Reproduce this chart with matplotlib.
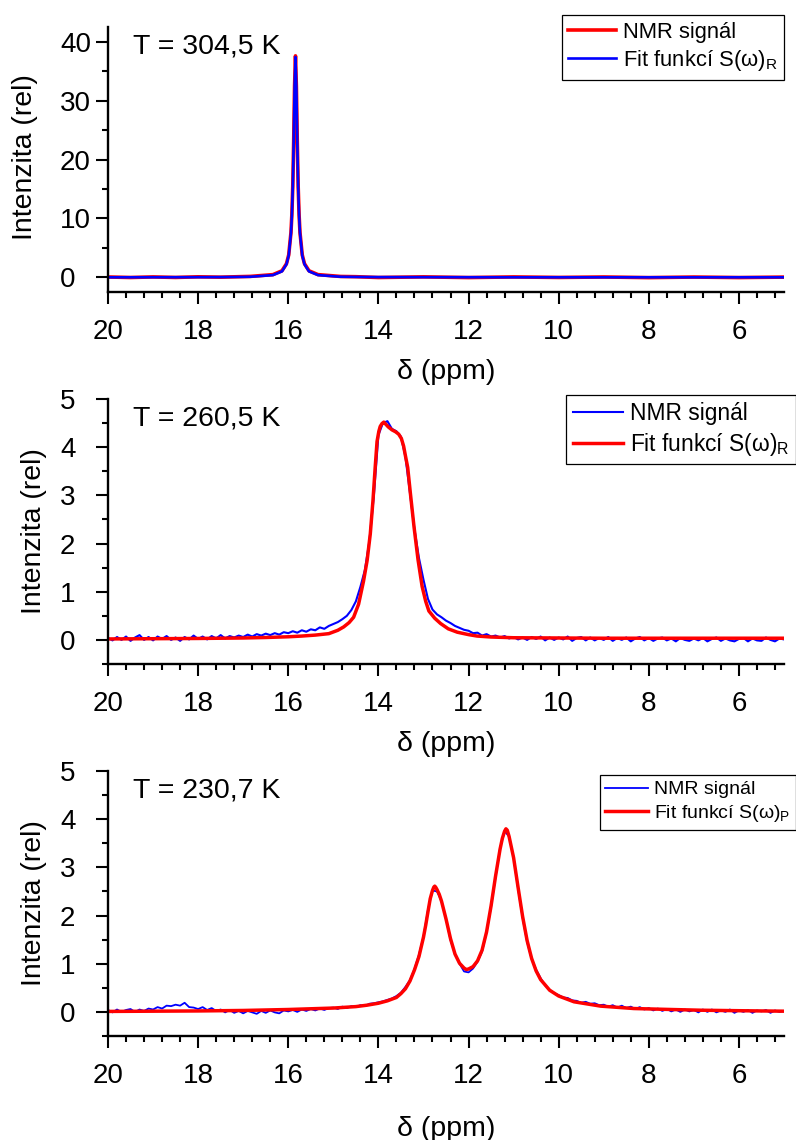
import numpy as np
import matplotlib
matplotlib.use("Agg")
import matplotlib.pyplot as plt
from matplotlib.ticker import MultipleLocator

plt.rcParams["font.family"] = ["Liberation Sans", "DejaVu Sans"]
plt.rcParams["mathtext.fontset"] = "custom"
plt.rcParams["mathtext.rm"] = "Liberation Sans"

RED = "#ff0000"
BLUE = "#0000ff"

# --- T = 304,5 K : one narrow line ---
t1_ppm = [20.0, 19.5, 19.0, 18.5, 18.0, 17.5, 17.0, 16.84, 16.34, 16.14,
          16.04, 15.99, 15.94, 15.92, 15.90, 15.88, 15.86, 15.84, 15.82, 15.80,
          15.78, 15.76, 15.74, 15.69, 15.64, 15.54, 15.34, 14.84, 14.5, 14.0,
          13.0, 12.0, 11.0, 10.0, 9.0, 8.0, 7.0, 6.0, 5.0]
t1_signal = [0.05, -0.04, 0.06, -0.03, 0.08, 0.02, 0.12, 0.15, 0.45, 1.1,
             2.3, 3.8, 7.6, 10.7, 15.5, 23.0, 32.5, 37.6, 32.4, 23.0,
             15.4, 10.6, 7.6, 3.8, 2.3, 1.1, 0.45, 0.14, 0.10, -0.04,
             0.07, -0.05, 0.06, -0.03, 0.05, -0.06, 0.04, -0.05, 0.03]
t1_fit = [0.0, 0.0, 0.01, 0.01, 0.02, 0.03, 0.07, 0.09, 0.37, 1.0,
          2.2, 3.7, 7.5, 10.5, 15.3, 22.8, 32.2, 37.4, 32.2, 22.8,
          15.3, 10.5, 7.5, 3.7, 2.2, 1.0, 0.37, 0.09, 0.06, 0.03,
          0.02, 0.01, 0.0, 0.0, 0.0, 0.0, 0.0, 0.0, 0.0]

# measured spectra at 260,5 K and 230,7 K share one grid, 20.0 -> 5.0 ppm
sig_ppm = np.round(np.arange(200, 49, -1) / 10, 1)

# --- T = 260,5 K ---
t2_signal = [
    0.04, -0.01, 0.06, 0.00, 0.07, -0.02, 0.05, 0.10, 0.00, 0.06,   # 20.0
    -0.01, 0.07, 0.02, 0.08, 0.00, 0.05, -0.02, 0.06, 0.01, 0.09,   # 19.0
    0.02, 0.07, 0.01, 0.08, 0.03, 0.10, 0.03, 0.08, 0.05, 0.09,     # 18.0
    0.06, 0.11, 0.07, 0.12, 0.09, 0.13, 0.10, 0.14, 0.11, 0.16,     # 17.0
    0.14, 0.18, 0.15, 0.20, 0.17, 0.22, 0.20, 0.26, 0.23, 0.29,     # 16.0
    0.33, 0.37, 0.43, 0.50, 0.62, 0.80, 1.10, 1.45, 2.05, 3.00,     # 15.0
    4.25, 4.50, 4.54, 4.38, 4.33, 4.22, 3.80, 3.05, 2.30, 1.70,     # 14.0
    1.25, 0.85, 0.63, 0.53, 0.47, 0.40, 0.35, 0.29, 0.25, 0.21,     # 13.0
    0.19, 0.14, 0.15, 0.09, 0.12, 0.07, 0.09, 0.05, 0.08, 0.03,     # 12.0
    0.06, 0.01, 0.05, 0.00, 0.06, 0.02, 0.07, -0.01, 0.05, 0.00,    # 11.0
    0.05, 0.01, 0.07, -0.02, 0.04, 0.06, -0.01, 0.05, -0.01, 0.04,  # 10.0
    0.00, 0.06, -0.02, 0.04, 0.00, 0.05, -0.03, 0.03, 0.06, -0.01,  # 9.0
    0.04, -0.02, 0.03, 0.05, -0.01, 0.03, -0.03, 0.04, 0.00, -0.02,  # 8.0
    0.03, -0.01, 0.04, -0.03, 0.02, 0.05, -0.02, 0.03, -0.01, -0.03,  # 7.0
    0.02, 0.04, -0.03, 0.03, -0.01, -0.02, 0.05, 0.00, -0.03, 0.03,  # 6.0
    0.01,                                                            # 5.0
]
t2_fit_ppm = [20.0, 19.0, 18.0, 17.0, 16.5, 16.0, 15.7, 15.4, 15.1, 14.9,
              14.77, 14.65, 14.55, 14.44, 14.33, 14.25, 14.18, 14.12, 14.07, 14.03,
              13.99, 13.96, 13.92, 13.88, 13.84, 13.78, 13.70, 13.62, 13.55, 13.49,
              13.44, 13.40, 13.35, 13.29, 13.21, 13.12, 13.03, 12.95, 12.88, 12.75,
              12.62, 12.45, 12.25, 12.0, 11.81, 11.5, 11.0, 10.0, 9.0, 8.0,
              7.0, 6.0, 5.0]
t2_fit = [0.02, 0.025, 0.03, 0.04, 0.05, 0.065, 0.08, 0.10, 0.13, 0.20,
          0.27, 0.36, 0.47, 0.74, 1.22, 1.65, 2.20, 2.90, 3.60, 4.12,
          4.33, 4.43, 4.49, 4.52, 4.48, 4.42, 4.36, 4.32, 4.27, 4.18,
          4.02, 3.82, 3.58, 3.04, 2.35, 1.66, 1.11, 0.80, 0.60, 0.45,
          0.34, 0.23, 0.16, 0.11, 0.08, 0.06, 0.045, 0.04, 0.035, 0.035,
          0.035, 0.035, 0.035]

# --- T = 230,7 K : two resolved lines ---
t3_signal = [
    0.04, -0.01, 0.05, 0.00, 0.04, 0.06, 0.00, 0.05, 0.02, 0.07,    # 20.0
    0.05, 0.10, 0.07, 0.13, 0.12, 0.15, 0.13, 0.19, 0.10, 0.09,     # 19.0
    0.06, 0.10, 0.04, 0.08, 0.02, 0.05, -0.01, 0.04, -0.02, 0.02,   # 18.0
    -0.03, 0.02, -0.01, -0.04, 0.02, -0.02, 0.03, -0.01, -0.03, 0.03,  # 17.0
    0.01, 0.04, 0.00, 0.05, 0.02, 0.06, 0.03, 0.07, 0.04, 0.08,     # 16.0
    0.09, 0.06, 0.11, 0.08, 0.12, 0.10, 0.14, 0.12, 0.17, 0.18,     # 15.0
    0.20, 0.22, 0.25, 0.28, 0.33, 0.40, 0.52, 0.66, 0.89, 1.19,     # 14.0
    1.56, 2.12, 2.52, 2.50, 2.30, 1.93, 1.49, 1.20, 1.00, 0.84,     # 13.0
    0.82, 0.90, 1.04, 1.25, 1.65, 2.18, 2.80, 3.40, 3.75, 3.64,     # 12.0
    3.20, 2.55, 1.95, 1.45, 1.10, 0.88, 0.70, 0.55, 0.46, 0.39,     # 11.0
    0.35, 0.30, 0.29, 0.24, 0.23, 0.19, 0.21, 0.17, 0.18, 0.14,     # 10.0
    0.15, 0.11, 0.14, 0.09, 0.13, 0.08, 0.11, 0.06, 0.10, 0.05,     # 9.0
    0.08, 0.03, 0.07, 0.02, 0.06, 0.01, 0.05, 0.00, 0.05, 0.01,     # 8.0
    0.04, -0.01, 0.05, 0.00, 0.05, -0.01, 0.03, 0.00, 0.05, -0.02,  # 7.0
    0.03, 0.00, 0.04, -0.02, 0.03, 0.01, 0.04, -0.02, 0.03, 0.00,   # 6.0
    0.02,                                                            # 5.0
]
t3_fit_ppm = [20.0, 19.0, 18.0, 17.0, 16.0, 15.0, 14.5, 14.25, 14.0, 13.8,
              13.6, 13.5, 13.4, 13.3, 13.2, 13.1, 13.0, 12.95, 12.9, 12.85,
              12.8, 12.77, 12.75, 12.73, 12.7, 12.65, 12.6, 12.5, 12.4, 12.3,
              12.2, 12.1, 12.05, 12.0, 11.9, 11.8, 11.7, 11.6, 11.5, 11.4,
              11.3, 11.25, 11.2, 11.17, 11.14, 11.1, 11.0, 10.9, 10.8, 10.7,
              10.6, 10.5, 10.4, 10.2, 10.0, 9.66, 9.07, 8.33, 7.5, 6.84,
              6.0, 5.0]
t3_fit = [0.01, 0.015, 0.02, 0.03, 0.05, 0.08, 0.11, 0.14, 0.18, 0.23,
          0.30, 0.38, 0.48, 0.64, 0.87, 1.15, 1.55, 1.80, 2.08, 2.35,
          2.52, 2.59, 2.61, 2.59, 2.54, 2.44, 2.30, 1.93, 1.52, 1.20,
          1.01, 0.91, 0.88, 0.89, 0.94, 1.06, 1.28, 1.66, 2.20, 2.82,
          3.38, 3.60, 3.75, 3.80, 3.77, 3.64, 3.20, 2.58, 1.98, 1.48,
          1.11, 0.85, 0.67, 0.45, 0.33, 0.21, 0.12, 0.07, 0.05, 0.035,
          0.025, 0.015]

FIG_W, FIG_H = 796, 1140
fig = plt.figure(figsize=(FIG_W / 100, FIG_H / 100), dpi=100)


def make_axes(top_px):
    left, right, h = 108, 784, 265
    return fig.add_axes([left / FIG_W, (FIG_H - top_px - h) / FIG_H,
                         (right - left) / FIG_W, h / FIG_H])


def style(ax, ymax, ymin, ymajor, yminor, xpad):
    ax.set_xlim(20, 5)
    ax.set_ylim(ymin, ymax)
    for s in ("top", "right"):
        ax.spines[s].set_visible(False)
    for s in ("left", "bottom"):
        ax.spines[s].set_linewidth(1.7)
    ax.xaxis.set_major_locator(MultipleLocator(2))
    ax.xaxis.set_minor_locator(MultipleLocator(0.4))
    ax.yaxis.set_major_locator(MultipleLocator(ymajor))
    ax.yaxis.set_minor_locator(MultipleLocator(yminor))
    ax.tick_params(which="major", length=8.6, width=1.5, labelsize=20)
    ax.tick_params(which="minor", length=4.3, width=1.5)
    ax.tick_params(axis="x", pad=11)
    ax.tick_params(axis="y", pad=26)
    for lab in ax.get_yticklabels():
        lab.set_horizontalalignment("left")
    ax.set_xlabel("δ (ppm)", fontsize=20.5, labelpad=xpad)
    ax.set_ylabel("Intenzita (rel)", fontsize=20.5)


def add_legend(ax, anchor, size):
    leg = ax.legend(loc="upper right", bbox_to_anchor=anchor, fontsize=size,
                    frameon=True, fancybox=False, edgecolor="black",
                    framealpha=1, borderpad=0.3, handlelength=2.2,
                    handletextpad=0.3, labelspacing=0.25, borderaxespad=0)
    leg.get_frame().set_linewidth(0.9)


# 304,5 K
ax1 = make_axes(27)
ax1.plot(t1_ppm, t1_signal, color=RED, lw=2.6, label="NMR signál")
ax1.plot(t1_ppm, t1_fit, color=BLUE, lw=1.9, label="Fit funkcí S(ω)$_\\mathregular{R}$")
style(ax1, 42.5, -2.5, 10, 5, 10)
ax1.yaxis.set_label_coords(-0.104, 0.51)
ax1.text(0.037, 0.975, "T = 304,5 K", transform=ax1.transAxes,
         fontsize=20.5, va="top", ha="left")
add_legend(ax1, (1.0, 1.045), 15.8)

# 260,5 K
ax2 = make_axes(399)
ax2.plot(sig_ppm, t2_signal, color=BLUE, lw=1.5, label="NMR signál")
ax2.plot(t2_fit_ppm, t2_fit, color=RED, lw=2.5, label="Fit funkcí S(ω)$_\\mathregular{R}$")
style(ax2, 5, -0.5, 1, 0.5, 10)
ax2.yaxis.set_label_coords(-0.09, 0.5)
ax2.text(0.037, 0.975, "T = 260,5 K", transform=ax2.transAxes,
         fontsize=20.5, va="top", ha="left")
add_legend(ax2, (1.018, 1.015), 16.4)

# 230,7 K
ax3 = make_axes(771)
ax3.plot(sig_ppm, t3_signal, color=BLUE, lw=1.3, label="NMR signál")
ax3.plot(t3_fit_ppm, t3_fit, color=RED, lw=2.5, label="Fit funkcí S(ω)$_\\mathregular{P}$")
style(ax3, 5, -0.5, 1, 0.5, 19)
ax3.yaxis.set_label_coords(-0.09, 0.5)
ax3.text(0.037, 0.975, "T = 230,7 K", transform=ax3.transAxes,
         fontsize=20.5, va="top", ha="left")
add_legend(ax3, (1.018, 0.985), 14)

fig.savefig("out.png", dpi=100)
